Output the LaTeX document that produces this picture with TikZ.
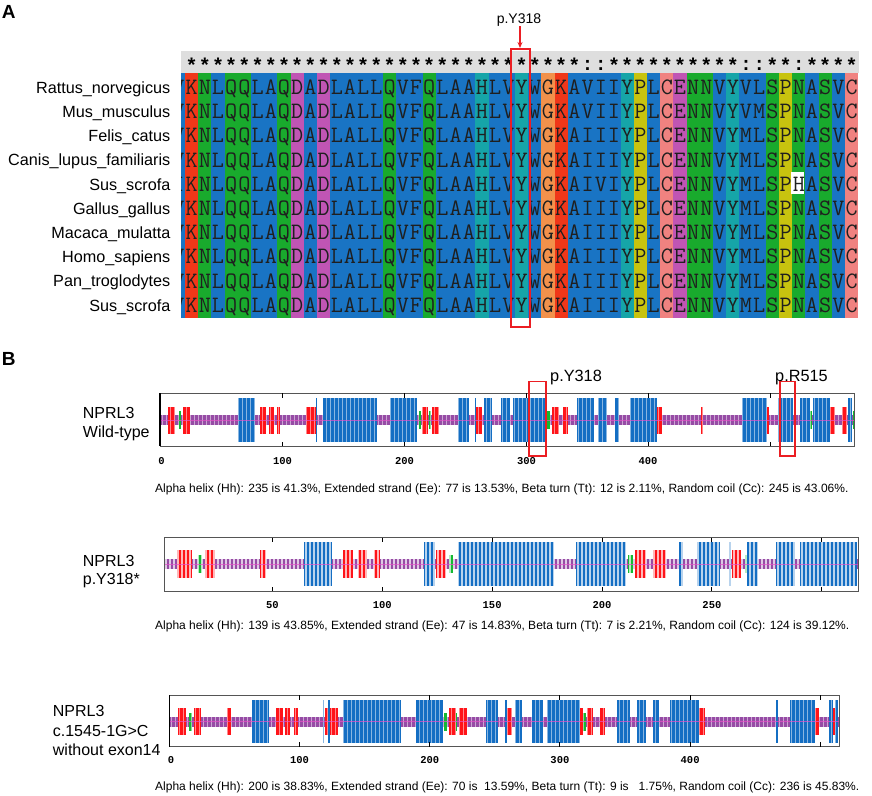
\documentclass[tikz,border=0pt]{standalone}
\usepackage{fontspec}
\setmainfont{Liberation Sans}
\newfontfamily\monob{Liberation Mono}
\usetikzlibrary{arrows.meta}
\definecolor{cBlue}{RGB}{25,116,196}
\definecolor{cRed}{RGB}{240,55,25}
\definecolor{cGreen}{RGB}{25,170,45}
\definecolor{cMag}{RGB}{192,85,180}
\definecolor{cCyan}{RGB}{22,165,168}
\definecolor{cOrange}{RGB}{242,145,75}
\definecolor{cYellow}{RGB}{200,195,15}
\definecolor{cPink}{RGB}{240,130,128}
\definecolor{hdrGray}{RGB}{222,222,222}
\definecolor{ssBlue}{RGB}{20,110,195}
\definecolor{ssRed}{RGB}{255,20,25}
\definecolor{ssGreen}{RGB}{20,185,50}
\definecolor{ssPurple}{RGB}{150,75,165}
\definecolor{ssLine}{RGB}{230,80,200}
\definecolor{markRed}{RGB}{235,30,35}
\definecolor{frameGray}{RGB}{85,85,85}
\begin{document}
\begin{tikzpicture}[x=1pt,y=-1pt,
  lbl/.style={font=\fontsize{16.2}{18}\selectfont, inner sep=0, anchor=base east},
  aa/.style={font=\ttfamily\fontsize{23.5}{23.5}\selectfont, inner sep=0, anchor=base, text=black!88},
  hdrstar/.style={font=\monob\bfseries\fontsize{20}{20}\selectfont, inner sep=0, anchor=base},
  hdrcolon/.style={font=\monob\bfseries\fontsize{19}{19}\selectfont, inner sep=0, anchor=base},
  captxt/.style={font=\fontsize{12}{14}\selectfont, inner sep=0, anchor=base west},
  ticklbl/.style={font=\monob\bfseries\fontsize{10.5}{10.5}\selectfont, inner sep=0, anchor=base},
  tname/.style={font=\fontsize{16}{19}\selectfont, inner sep=0, anchor=base west},
  panellbl/.style={font=\bfseries\fontsize{19}{19}\selectfont, inner sep=0, anchor=base west},
  mutlbl/.style={font=\fontsize{16.3}{16.3}\selectfont, inner sep=0, anchor=base west},
  redbox/.style={draw=markRed, line width=1.3},
  trackframe/.style={draw=frameGray, line width=1},
  tickmark/.style={draw=black, line width=1},
  stripeline/.style={draw=white, line width=1, opacity=.5},
  centerline/.style={draw=ssLine, line width=.5, opacity=.7}
]
\useasboundingbox (0,0) rectangle (872,795);

%================ Panel A ================
\node[panellbl] (pA) at (1.7,18.5) {A};

% header bar
\fill[hdrGray] (181,51) rectangle (858.5,73);
\foreach \k in {1,...,30}
  \node[hdrstar] (s\k) at ({178.4+13.2*\k},72.5) {*};
\foreach \k in {33,...,42}
  \node[hdrstar] (s\k) at ({178.4+13.2*\k},72.5) {*};
\foreach \k in {45,46,48,49,50,51}
  \node[hdrstar] (s\k) at ({178.4+13.2*\k},72.5) {*};
\foreach \k in {31,32,43,44,47}
  \node[hdrcolon] (s\k) at ({178.4+13.2*\k},70) {:};

\begin{scope}
\clip (181,50) rectangle (858.5,330);
% column backgrounds
\foreach \cc [count=\k from 0] in {cBlue,cRed,cGreen,cBlue,cGreen,cGreen,cBlue,cBlue,cGreen,cMag,
  cBlue,cMag,cBlue,cBlue,cBlue,cBlue,cGreen,cBlue,cBlue,cGreen,
  cBlue,cBlue,cBlue,cCyan,cBlue,cBlue,cCyan,cBlue,cOrange,cRed,
  cBlue,cBlue,cBlue,cBlue,cCyan,cYellow,cBlue,cPink,cMag,cGreen,
  cGreen,cBlue,cCyan,cBlue,cBlue,cGreen,cYellow,cGreen,cBlue,cGreen,
  cBlue,cPink}
  \fill[\cc] ({171.8+13.2*\k},73) rectangle ({185.05+13.2*\k},318);
% unmatched residue (Sus_scrofa, H)
\fill[white] (791,{87.5+24.2*4-12}) rectangle (803.8,{87.5+24.2*4+10});
% first (partial) column
\foreach \r/\c in {1/V,2/V,3/V,4/V,5/I,6/V,7/V,8/V,9/V,10/V}
  \node[aa] (a\r-0) at (178.4,{87.5+24.2*(\r-1)+7}) {\c};
% common columns 1..29
\foreach \r in {1,...,10}{
  \foreach \c [count=\k] in {K,N,L,Q,Q,L,A,Q,D,A,D,L,A,L,L,Q,V,F,Q,L,A,A,H,L,V,Y,W,G,K}
    \node[aa] (a\r-\k) at ({178.4+13.2*\k},{87.5+24.2*(\r-1)+7}) {\c};
}
% variable tails 30..51
\foreach \r/\t in {
  1/{A,V,I,I,Y,P,L,C,E,N,N,V,Y,V,L,S,P,N,A,S,V,C},
  2/{A,V,I,I,Y,P,L,C,E,N,N,V,Y,V,M,S,P,N,A,S,V,C},
  3/{A,I,I,I,Y,P,L,C,E,N,N,V,Y,M,L,S,P,N,A,S,V,C},
  4/{A,I,I,I,Y,P,L,C,E,N,N,V,Y,M,L,S,P,N,A,S,V,C},
  5/{A,I,V,I,Y,P,L,C,E,N,N,V,Y,M,L,S,P,H,A,S,V,C},
  6/{A,I,I,I,Y,P,L,C,E,N,N,V,Y,M,L,S,P,N,A,S,V,C},
  7/{A,I,I,I,Y,P,L,C,E,N,N,V,Y,M,L,S,P,N,A,S,V,C},
  8/{A,I,I,I,Y,P,L,C,E,N,N,V,Y,M,L,S,P,N,A,S,V,C},
  9/{A,I,I,I,Y,P,L,C,E,N,N,V,Y,M,L,S,P,N,A,S,V,C},
  10/{A,I,I,I,Y,P,L,C,E,N,N,V,Y,M,L,S,P,N,A,S,V,C}}{
  \foreach \c [count=\k from 30] in \t
    \node[aa] (a\r-\k) at ({178.4+13.2*\k},{87.5+24.2*(\r-1)+7}) {\c};
}
\end{scope}

% species labels
\foreach \r/\s in {1/Rattus\_norvegicus,2/Mus\_musculus,3/Felis\_catus,4/Canis\_lupus\_familiaris,
  5/Sus\_scrofa,6/Gallus\_gallus,7/Macaca\_mulatta,8/Homo\_sapiens,9/Pan\_troglodytes,10/Sus\_scrofa}
  \node[lbl] (sp\r) at (170.5,{87.5+24.2*(\r-1)+5.8}) {\s};

% mutation highlight
\draw[redbox, line width=2] (510.5,49) rectangle (529.5,327);
\coordinate (boxtop) at (520,48);
\node[font=\fontsize{14}{14}\selectfont, inner sep=0, anchor=base] (ymut) at (519,23.5) {p.Y318};
\coordinate (arrstart) at (520,26);
\draw[draw=markRed, line width=1.5, -{Stealth[length=6pt,width=5pt]}] (arrstart) -- (boxtop);

%================ Panel B ================
\node[panellbl] (pB) at (1.7,365) {B};

% ---------- Track 1 : wild type ----------
\def\yc{420}
\fill[ssPurple] (160,\yc-5) rectangle (854,\yc+5);
\foreach \a/\b in {168.3/175,183.3/190,260/266,269/274,277.3/280,305.7/315.7,421.7/428.3,431.7/439,
  476/481.7,545/547.3,551.7/559.3,563.3/568.3,656.7/661.7,701/702.7,766.7/769.3,794/795.5,830/835,841.7/846.7}
  \fill[ssRed] (\a,\yc-13.5) rectangle (\b,\yc+13.5);
\foreach \a/\b in {238.3/255,315.5/316.8,323.3/376.7,390/416.7,458.3/469.3,475/476.3,484.3/492.3,500.7/510,
  513.3/545,577.3/594.3,598.3/606.7,615/619,630/656.7,741.7/766.7,778.3/793.3,800/810,813.3/830,848.3/851.7}
  \fill[ssBlue] (\a,\yc-22) rectangle (\b,\yc+22);
\foreach \a/\b in {179.3/181,418.7/420.7,429/430.7,547.3/550,810/811.5,852.5/854}
  \fill[ssGreen] (\a,\yc-9) rectangle (\b,\yc+9);
\foreach \x in {162,166,...,852}
  \draw[stripeline] (\x,\yc-22) -- (\x,\yc+22);
\draw[centerline] (160,\yc) -- (854,\yc);
\draw[trackframe] (160,393) rectangle (854,446);
\draw[black, line width=1.4] (160,393) -- (160,446);
\foreach \x in {160,282,404,526,648,770}{
  \draw[tickmark] (\x,393) -- (\x,397.5);
  \draw[tickmark] (\x,446) -- (\x,441.5);
}
\foreach \x/\t in {161.5/0,282.5/100,404.5/200,526.5/300,648/400}
  \node[ticklbl] (t1-\t) at (\x,464) {\t};
\draw[redbox] (529,381.5) rectangle (546,456);
\draw[redbox] (780,381.5) rectangle (795,456);
\node[mutlbl] (mY) at (550,381.5) {p.Y318};
\node[mutlbl] (mR) at (775,381.5) {p.R515};
\node[tname] (n1a) at (82.7,418.5) {NPRL3};
\node[tname] (n1b) at (82.7,437) {Wild-type};
\node[captxt] (c1) at (155,492.3) {Alpha helix (Hh): 235 is 41.3\%, Extended strand (Ee): 77 is 13.53\%, Beta turn (Tt): 12 is 2.11\%, Random coil (Cc): 245 is 43.06\%.};

% ---------- Track 2 : p.Y318* ----------
\def\yc{564}
\fill[ssPurple] (165,\yc-5) rectangle (857.5,\yc+5);
\foreach \a/\b in {176.7/191.7,205/215,260/266,343.3/353.3,358.3/366.7,374.3/380,435.7/446,635/646,652.7/666,731.7/740.7}
  \fill[ssRed] (\a,\yc-14) rectangle (\b,\yc+14);
\foreach \a/\b in {304/331.7,424.3/435,457.7/554,576/626,679/683.3,697.3/720,729.3/731.3,747/757.7,776/795,800/857.3}
  \fill[ssBlue] (\a,\yc-22) rectangle (\b,\yc+22);
\foreach \a/\b in {198.3/202.3,449/452.7,628.3/632.7,745.3/747}
  \fill[ssGreen] (\a,\yc-9) rectangle (\b,\yc+9);
\foreach \x in {166,170,...,856}
  \draw[stripeline, line width=1.6, opacity=.7] (\x,\yc-22) -- (\x,\yc+22);
\draw[centerline] (165,\yc) -- (857.5,\yc);
\draw[trackframe] (164,537.5) rectangle (858.3,591);
\foreach \x in {272.3,382.2,492.1,602,711.9,821.8}{
  \draw[tickmark] (\x,537.5) -- (\x,542);
  \draw[tickmark] (\x,591) -- (\x,586.5);
}
\foreach \x/\t in {272.3/50,382.2/100,492.1/150,602/200,711.9/250}
  \node[ticklbl] (t2-\t) at (\x,608) {\t};
\node[tname] (n2a) at (82.7,566) {NPRL3};
\node[tname] (n2b) at (82.7,584) {p.Y318*};
\node[captxt] (c2) at (155,629) {Alpha helix (Hh): 139 is 43.85\%, Extended strand (Ee): 47 is 14.83\%, Beta turn (Tt): 7 is 2.21\%, Random coil (Cc): 124 is 39.12\%.};

% ---------- Track 3 : c.1545-1G>C ----------
\def\yc{721.5}
\fill[ssPurple] (170,\yc-5) rectangle (839,\yc+5);
\foreach \a/\b in {178.3/186,194/201,226.7/231.3,275.7/282.7,285/290,294/298.3,325/337.7,449.3/456,459.3/466.7,
  506/511.7,580/583.3,587.3/593.3,600/605,699.3/705,815/819.3,832.7/835}
  \fill[ssRed] (\a,\yc-13.5) rectangle (\b,\yc+13.5);
\foreach \a/\b in {251.7/269,322.7/324,328.3/330,343.3/400.7,415.7/443.3,485.7/498.3,505/506.7,515/522.3,532/543,
  547.3/580,617.3/630,636.7/646,652.7/659,670/699.3,776/778.3,790/815,829.3/832.7,835/838.3}
  \fill[ssBlue] (\a,\yc-21.5) rectangle (\b,\yc+21.5);
\foreach \a/\b in {189.3/192,444/447.3,456/457.3,582.7/586}
  \fill[ssGreen] (\a,\yc-9) rectangle (\b,\yc+9);
\foreach \x in {171,175,...,839}
  \draw[stripeline] (\x,\yc-21.5) -- (\x,\yc+21.5);
\draw[centerline] (170,\yc) -- (839,\yc);
\draw[trackframe] (169.3,695) rectangle (839.5,746.7);
\draw[black, line width=1.4] (169.3,695) -- (169.3,746.7);
\foreach \x in {169.3,299.5,429.7,559.9,690.1,820.3}{
  \draw[tickmark] (\x,695) -- (\x,699.5);
  \draw[tickmark] (\x,746.7) -- (\x,742.2);
}
\foreach \x/\t in {171/0,299.5/100,429.7/200,559.9/300,690.1/400}
  \node[ticklbl] (t3-\t) at (\x,763) {\t};
\node[tname] (n3a) at (52.7,716.5) {NPRL3};
\node[tname] (n3b) at (52.7,736) {c.1545-1G>C};
\node[tname] (n3c) at (52.7,755) {without exon14};
\node[captxt] (c3) at (155,790) {Alpha helix (Hh): 200 is 38.83\%, Extended strand (Ee): 70 is\ \ 13.59\%, Beta turn (Tt): 9 is\ \ \ 1.75\%, Random coil (Cc): 236 is 45.83\%.};
\end{tikzpicture}
\end{document}
